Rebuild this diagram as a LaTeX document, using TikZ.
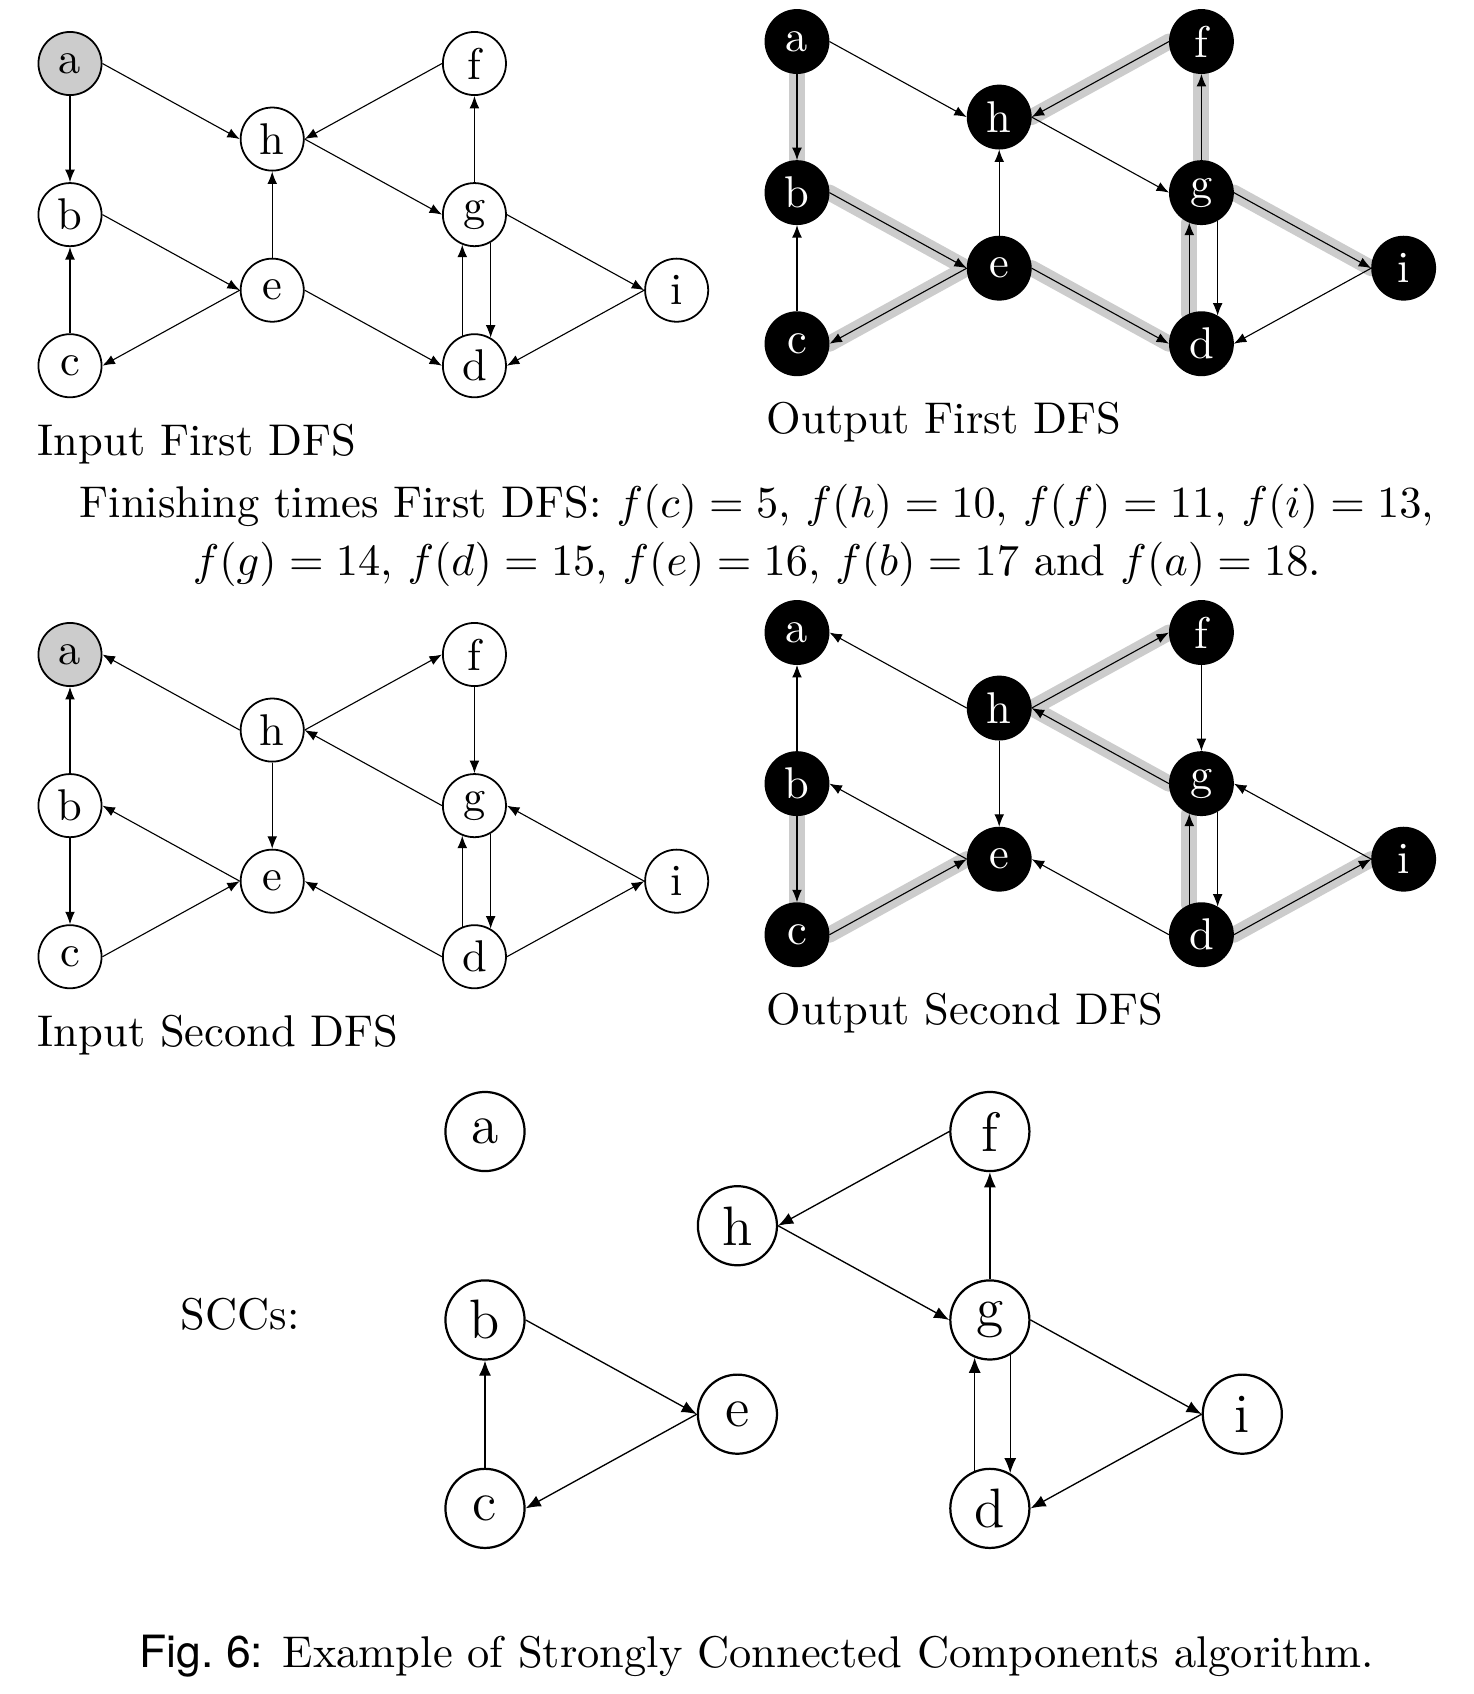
\documentclass[tikz,border=0pt]{standalone}
\usepackage{fontspec}
\newfontfamily\figsans{TeX Gyre Heros}
\usepackage{tikz}
\usetikzlibrary{arrows.meta}
\usetikzlibrary{backgrounds}
\usetikzlibrary{positioning}
\tikzset{vertex/.style={circle,draw,minimum size=14.2pt,inner sep=0pt,line width=0.4pt}}
\tikzset{rootvertex/.style={vertex,fill=gray!40}}
\tikzset{donevertex/.style={vertex,fill=black,text=white}}
\tikzset{sccvertex/.style={vertex,minimum size=17.8pt,line width=0.5pt,font=\fontsize{12.5}{15}\selectfont}}
\tikzset{treeband/.style={draw=gray!40,line width=3.6pt,line cap=round}}
\tikzset{caption/.style={anchor=base west,inner sep=0pt}}

\begin{document}
\begin{tikzpicture}[x=0.225pt,y=-0.225pt,
      >={Latex[length=2.8pt,width=2.2pt]},
      node distance=34pt,
      on grid]

  \useasboundingbox (0,0) rectangle (1474,1694);

  % input of the first DFS
  \node[rootvertex]
    (FirstInA) at (70,63.5) {a};
  \node[vertex]
    (FirstInB) [below=of FirstInA] {b};
  \node[vertex]
    (FirstInC) [below=of FirstInB] {c};
  \node[vertex]
    (FirstInH) [below right=17pt and 45.5pt of FirstInA] {h};
  \node[vertex]
    (FirstInE) [below=of FirstInH] {e};
  \node[vertex]
    (FirstInF) [right=91pt of FirstInA] {f};
  \node[vertex]
    (FirstInG) [below=of FirstInF] {g};
  \node[vertex]
    (FirstInD) [below=of FirstInG] {d};
  \node[vertex]
    (FirstInI) [below right=17pt and 45.5pt of FirstInG] {i};
  \node[caption]
    (FirstInLabel) at (37,455) {Input First DFS};

  \path[->,line width=0.25pt]
    (FirstInA.south) edge (FirstInB.north)
    (FirstInA.east) edge (FirstInH.west)
    (FirstInF.west) edge (FirstInH.east)
    (FirstInH.east) edge (FirstInG.west)
    (FirstInG.north) edge (FirstInF.south)
    (FirstInE.north) edge (FirstInH.south)
    (FirstInB.east) edge (FirstInE.west)
    (FirstInE.west) edge (FirstInC.east)
    (FirstInC.north) edge (FirstInB.south)
    (FirstInE.east) edge (FirstInD.west)
    (FirstInD.112) edge (FirstInG.248)
    (FirstInG.300) edge (FirstInD.60)
    (FirstInG.east) edge (FirstInI.west)
    (FirstInI.west) edge (FirstInD.east);

  % output of the first DFS
  \node[donevertex]
    (FirstOutA) at (797,41.5) {a};
  \node[donevertex]
    (FirstOutB) [below=of FirstOutA] {b};
  \node[donevertex]
    (FirstOutC) [below=of FirstOutB] {c};
  \node[donevertex]
    (FirstOutH) [below right=17pt and 45.5pt of FirstOutA] {h};
  \node[donevertex]
    (FirstOutE) [below=of FirstOutH] {e};
  \node[donevertex]
    (FirstOutF) [right=91pt of FirstOutA] {f};
  \node[donevertex]
    (FirstOutG) [below=of FirstOutF] {g};
  \node[donevertex]
    (FirstOutD) [below=of FirstOutG] {d};
  \node[donevertex]
    (FirstOutI) [below right=17pt and 45.5pt of FirstOutG] {i};
  \node[caption]
    (FirstOutLabel) at (766,433) {Output First DFS};

  \begin{pgfonlayer}{background}
    \draw[treeband] (FirstOutA.south) -- (FirstOutB.north);
    \draw[treeband] (FirstOutB.east) -- (FirstOutE.west);
    \draw[treeband] (FirstOutE.west) -- (FirstOutC.east);
    \draw[treeband] (FirstOutE.east) -- (FirstOutD.west);
    \draw[treeband] (FirstOutD.112) -- (FirstOutG.248);
    \draw[treeband] (FirstOutG.north) -- (FirstOutF.south);
    \draw[treeband] (FirstOutF.west) -- (FirstOutH.east);
    \draw[treeband] (FirstOutG.east) -- (FirstOutI.west);
  \end{pgfonlayer}

  \path[->,line width=0.25pt]
    (FirstOutA.south) edge (FirstOutB.north)
    (FirstOutA.east) edge (FirstOutH.west)
    (FirstOutF.west) edge (FirstOutH.east)
    (FirstOutH.east) edge (FirstOutG.west)
    (FirstOutG.north) edge (FirstOutF.south)
    (FirstOutE.north) edge (FirstOutH.south)
    (FirstOutB.east) edge (FirstOutE.west)
    (FirstOutE.west) edge (FirstOutC.east)
    (FirstOutC.north) edge (FirstOutB.south)
    (FirstOutE.east) edge (FirstOutD.west)
    (FirstOutD.112) edge (FirstOutG.248)
    (FirstOutG.300) edge (FirstOutD.60)
    (FirstOutG.east) edge (FirstOutI.west)
    (FirstOutI.west) edge (FirstOutD.east);

  % finishing times
  \node[anchor=base,inner sep=0pt]
    (TimesOne) at (757,517) {Finishing times First DFS: $f(c)=5$, $f(h)=10$, $f(f)=11$, $f(i)=13$,};
  \node[anchor=base,inner sep=0pt]
    (TimesTwo) at (757,575) {$f(g)=14$, $f(d)=15$, $f(e)=16$, $f(b)=17$ and $f(a)=18$.};

  % input of the second DFS
  \node[rootvertex]
    (SecondInA) at (70,654.5) {a};
  \node[vertex]
    (SecondInB) [below=of SecondInA] {b};
  \node[vertex]
    (SecondInC) [below=of SecondInB] {c};
  \node[vertex]
    (SecondInH) [below right=17pt and 45.5pt of SecondInA] {h};
  \node[vertex]
    (SecondInE) [below=of SecondInH] {e};
  \node[vertex]
    (SecondInF) [right=91pt of SecondInA] {f};
  \node[vertex]
    (SecondInG) [below=of SecondInF] {g};
  \node[vertex]
    (SecondInD) [below=of SecondInG] {d};
  \node[vertex]
    (SecondInI) [below right=17pt and 45.5pt of SecondInG] {i};
  \node[caption]
    (SecondInLabel) at (37,1046) {Input Second DFS};

  \path[->,line width=0.25pt]
    (SecondInB.north) edge (SecondInA.south)
    (SecondInH.west) edge (SecondInA.east)
    (SecondInH.east) edge (SecondInF.west)
    (SecondInF.south) edge (SecondInG.north)
    (SecondInG.west) edge (SecondInH.east)
    (SecondInH.south) edge (SecondInE.north)
    (SecondInE.west) edge (SecondInB.east)
    (SecondInB.south) edge (SecondInC.north)
    (SecondInC.east) edge (SecondInE.west)
    (SecondInD.west) edge (SecondInE.east)
    (SecondInD.112) edge (SecondInG.248)
    (SecondInG.300) edge (SecondInD.60)
    (SecondInI.west) edge (SecondInG.east)
    (SecondInD.east) edge (SecondInI.west);

  % output of the second DFS
  \node[donevertex]
    (SecondOutA) at (797,632.5) {a};
  \node[donevertex]
    (SecondOutB) [below=of SecondOutA] {b};
  \node[donevertex]
    (SecondOutC) [below=of SecondOutB] {c};
  \node[donevertex]
    (SecondOutH) [below right=17pt and 45.5pt of SecondOutA] {h};
  \node[donevertex]
    (SecondOutE) [below=of SecondOutH] {e};
  \node[donevertex]
    (SecondOutF) [right=91pt of SecondOutA] {f};
  \node[donevertex]
    (SecondOutG) [below=of SecondOutF] {g};
  \node[donevertex]
    (SecondOutD) [below=of SecondOutG] {d};
  \node[donevertex]
    (SecondOutI) [below right=17pt and 45.5pt of SecondOutG] {i};
  \node[caption]
    (SecondOutLabel) at (766,1024) {Output Second DFS};

  \begin{pgfonlayer}{background}
    \draw[treeband] (SecondOutB.south) -- (SecondOutC.north);
    \draw[treeband] (SecondOutC.east) -- (SecondOutE.west);
    \draw[treeband] (SecondOutH.east) -- (SecondOutF.west);
    \draw[treeband] (SecondOutG.west) -- (SecondOutH.east);
    \draw[treeband] (SecondOutD.112) -- (SecondOutG.248);
    \draw[treeband] (SecondOutD.east) -- (SecondOutI.west);
  \end{pgfonlayer}

  \path[->,line width=0.25pt]
    (SecondOutB.north) edge (SecondOutA.south)
    (SecondOutH.west) edge (SecondOutA.east)
    (SecondOutH.east) edge (SecondOutF.west)
    (SecondOutF.south) edge (SecondOutG.north)
    (SecondOutG.west) edge (SecondOutH.east)
    (SecondOutH.south) edge (SecondOutE.north)
    (SecondOutE.west) edge (SecondOutB.east)
    (SecondOutB.south) edge (SecondOutC.north)
    (SecondOutC.east) edge (SecondOutE.west)
    (SecondOutD.west) edge (SecondOutE.east)
    (SecondOutD.112) edge (SecondOutG.248)
    (SecondOutG.300) edge (SecondOutD.60)
    (SecondOutI.west) edge (SecondOutG.east)
    (SecondOutD.east) edge (SecondOutI.west);

  % strongly connected components
  \begin{scope}[node distance=42.4pt,
      >={Latex[length=3.4pt,width=2.7pt]}]
    \node[sccvertex]
      (SccA) at (485,1131.5) {a};
    \node[sccvertex]
      (SccB) [below=of SccA] {b};
    \node[sccvertex]
      (SccC) [below=of SccB] {c};
    \node[sccvertex]
      (SccH) [below right=21.2pt and 56.8pt of SccA] {h};
    \node[sccvertex]
      (SccE) [below=of SccH] {e};
    \node[sccvertex]
      (SccF) [right=113.6pt of SccA] {f};
    \node[sccvertex]
      (SccG) [below=of SccF] {g};
    \node[sccvertex]
      (SccD) [below=of SccG] {d};
    \node[sccvertex]
      (SccI) [below right=21.2pt and 56.8pt of SccG] {i};
    \node[caption]
      (SccLabel) at (180,1329) {SCCs:};

    \path[->,line width=0.3pt]
      (SccF.west) edge (SccH.east)
      (SccH.east) edge (SccG.west)
      (SccG.north) edge (SccF.south)
      (SccB.east) edge (SccE.west)
      (SccE.west) edge (SccC.east)
      (SccC.north) edge (SccB.south)
      (SccG.east) edge (SccI.west)
      (SccI.west) edge (SccD.east)
      (SccD.112) edge (SccG.248)
      (SccG.300) edge (SccD.60);
  \end{scope}

  \node[anchor=base,inner sep=0pt]
    (FigCaption) at (757,1667) {{\figsans Fig.~6:} Example of Strongly Connected Components algorithm.};

\end{tikzpicture}
\end{document}
